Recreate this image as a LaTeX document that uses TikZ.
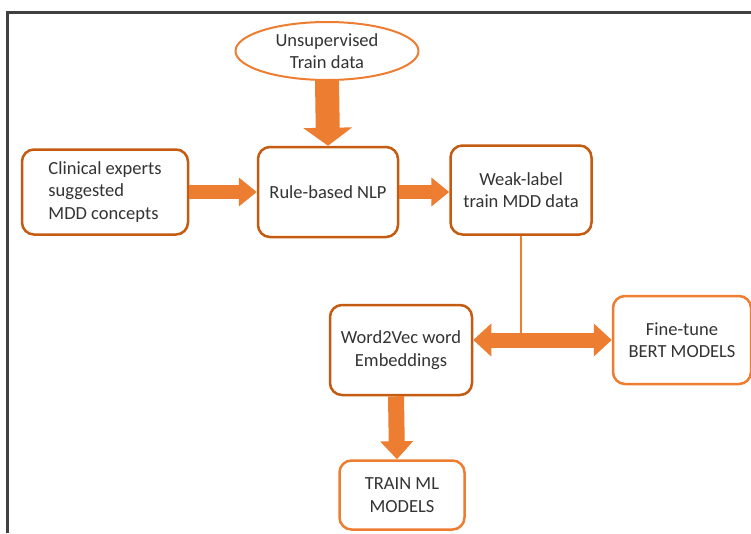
\documentclass[tikz,border=0pt]{standalone}
\usepackage{fontspec}
\setmainfont{Carlito}
\usetikzlibrary{arrows.meta,shapes.geometric}
\definecolor{orng}{HTML}{ED7D31}
\definecolor{dorng}{HTML}{C55A11}

\tikzset{
  box/.style={draw=dorng, line width=2.5pt, rounded corners=12pt, fill=white,
    align=center, inner sep=0pt, text=black!80,
    font={\fontsize{18.5}{22.5}\selectfont}},
  lbox/.style={box, draw=orng},
  fatarrow/.style={draw=orng, line width=#1, -{Triangle[length=18pt,width=2*#1]}},
}

\begin{document}
\begin{tikzpicture}[x=1pt, y=-1pt]
		%%%%% START %%%%%
		\useasboundingbox (0, 0) rectangle (751, 533);
		
		\draw[line width=3pt, color=black!75] (7, 533) -- (7, 12) -- (751, 12);
		
		\node[box, draw=orng, line width=2pt, ellipse, minimum width=183, minimum height=58] (unsup) at (327, 51) {Unsupervised\\Train data};
		
		\node[box, align=left, minimum width=166, minimum height=85] (clin) at (105, 192) {Clinical experts\\suggested\\MDD concepts};
		\node[box, minimum width=140, minimum height=90] (rule) at (328, 192) {Rule-based NLP};
		\node[box, minimum width=141, minimum height=89] (weak) at (521, 190) {Weak-label\\train MDD data};
		
		\node[box, minimum width=142, minimum height=90] (w2v) at (401, 350) {Word2Vec word\\Embeddings};
		\node[lbox, minimum width=138, minimum height=88] (fine) at (682, 340) {Fine-tune\\BERT MODELS};
		\node[lbox, minimum width=125, minimum height=69] (train) at (402, 495) {TRAIN ML\\MODELS};
		
		\coordinate (jn) at (521, 340);
		
		\draw[fatarrow=24pt] (unsup.south) -- (rule.north);
		\draw[fatarrow=14pt] (clin.east) -- (clin.east -| rule.west);
		\draw[fatarrow=14pt] (rule.east) -- (rule.east -| weak.west);
		
		\draw[line width=15pt, color=orng, {Triangle[length=18pt,width=32pt]}-{Triangle[length=18pt,width=32pt]}] (jn -| w2v.east) -- (jn -| fine.west);
		\draw[line width=1.5pt, color=orng] (weak.south) -- ([yshift=-8]jn);
		
		\draw[fatarrow=16pt] ([xshift=-5]w2v.south) -- ([xshift=-5]train.north);
		%%%%% END %%%%%
	\end{tikzpicture}
\end{document}
